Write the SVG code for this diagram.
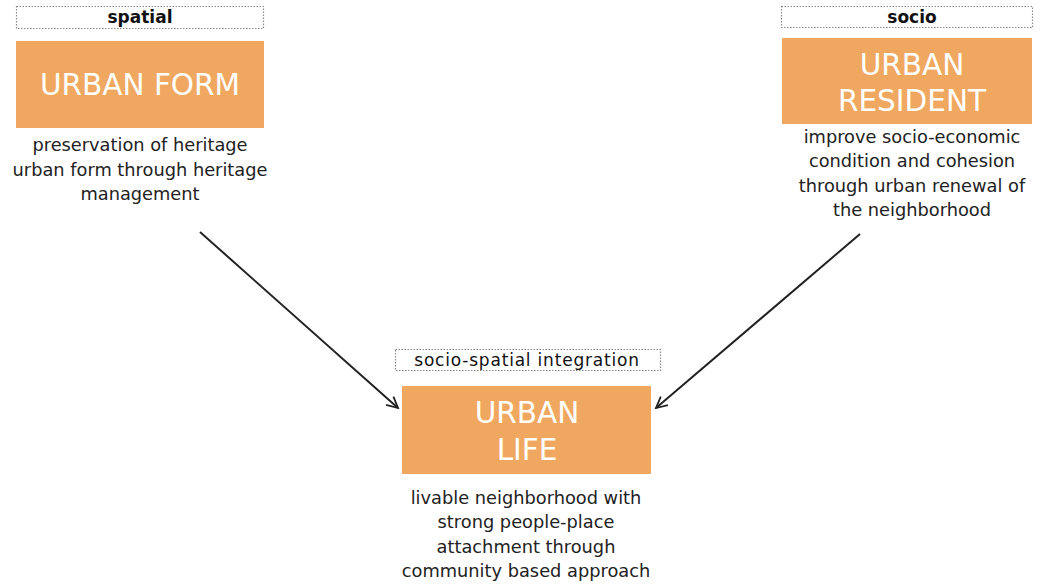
<svg xmlns="http://www.w3.org/2000/svg" width="1045" height="585" viewBox="0 0 1045 585">
  <defs>
    <marker id="arrow" viewBox="0 0 14 14" refX="12.5" refY="7" markerWidth="14" markerHeight="14" markerUnits="userSpaceOnUse" orient="auto">
      <path d="M1.5,1.5 L12.5,7 L1.5,12.5" fill="none" stroke="#222" stroke-width="1.8"/>
    </marker>
    <style>
      .tag { fill: #fff; stroke: #888; stroke-width: 1.2; stroke-dasharray: 1.5 1.5; }
      .tagtext { font-family: "DejaVu Sans", Verdana, sans-serif; font-size: 17px; fill: #111; text-anchor: middle; }
      .box { fill: #F0A860; }
      .title { font-family: "DejaVu Sans", Verdana, sans-serif; font-size: 29.5px; fill: #fff; text-anchor: middle; }
      .desc { font-family: "DejaVu Sans", Verdana, sans-serif; font-size: 17.8px; fill: #222; text-anchor: middle; }
      .edge { stroke: #222; stroke-width: 2; fill: none; }
    </style>
  </defs>
  <rect width="1045" height="585" fill="#fff"/>

  <g id="connectors">
    <line class="edge" x1="200" y1="232" x2="398" y2="408" marker-end="url(#arrow)"/>
    <line class="edge" x1="860" y1="234" x2="656" y2="408" marker-end="url(#arrow)"/>
  </g>

  <g id="urban-form">
    <rect class="tag" x="16.5" y="6.5" width="247" height="22"/>
    <text class="tagtext" x="140" y="23" font-weight="bold">spatial</text>
    <rect class="box" x="16" y="41" width="248" height="87"/>
    <text class="title" x="140" y="95">URBAN FORM</text>
    <text class="desc" x="140" y="151">preservation of heritage</text>
    <text class="desc" x="140" y="176">urban form through heritage</text>
    <text class="desc" x="140" y="200">management</text>
  </g>

  <g id="urban-resident">
    <rect class="tag" x="781.5" y="6.5" width="251" height="21"/>
    <text class="tagtext" x="912" y="23" font-weight="bold">socio</text>
    <rect class="box" x="782" y="38" width="250" height="86"/>
    <text class="title" x="912" y="75">URBAN</text>
    <text class="title" x="912" y="111">RESIDENT</text>
    <text class="desc" x="912" y="143">improve socio-economic</text>
    <text class="desc" x="912" y="167">condition and cohesion</text>
    <text class="desc" x="912" y="192">through urban renewal of</text>
    <text class="desc" x="912" y="216">the neighborhood</text>
  </g>

  <g id="urban-life">
    <rect class="tag" x="395.5" y="349.5" width="265" height="21"/>
    <text class="tagtext" x="527" y="366" font-size="20" letter-spacing="0.8">socio-spatial integration</text>
    <rect class="box" x="402" y="386" width="249" height="88"/>
    <text class="title" x="527" y="423">URBAN</text>
    <text class="title" x="527" y="460">LIFE</text>
    <text class="desc" x="526" y="504">livable neighborhood with</text>
    <text class="desc" x="526" y="528">strong people-place</text>
    <text class="desc" x="526" y="553">attachment through</text>
    <text class="desc" x="526" y="577">community based approach</text>
  </g>
</svg>
